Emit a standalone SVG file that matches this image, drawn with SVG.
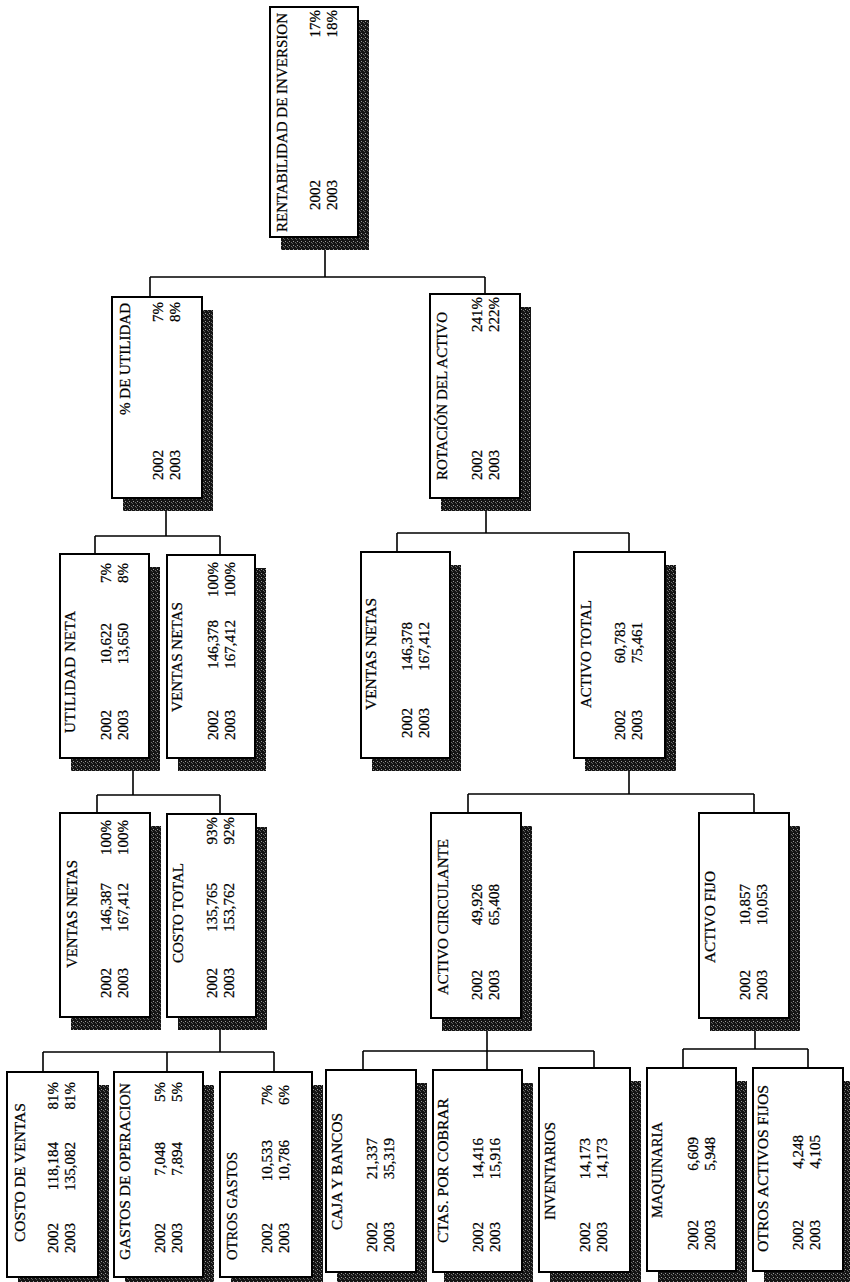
<svg xmlns="http://www.w3.org/2000/svg" width="850" height="1282" viewBox="0 0 850 1282">
<defs>
<pattern id="halftone" width="4" height="4" patternUnits="userSpaceOnUse">
<rect width="4" height="4" fill="#141414"/>
<rect x="1" y="1" width="1" height="1" fill="#9a9a9a"/>
<rect x="3" y="2" width="1" height="1" fill="#6e6e6e"/>
<rect x="0" y="3" width="1" height="1" fill="#555"/>
</pattern>
<style>
.box{fill:#fff;stroke:#000;stroke-width:2}
.sh{fill:url(#halftone)}
.t{font-family:"Liberation Serif","Times New Roman",serif;font-size:15px;fill:#000;stroke:#000;stroke-width:0.25}
.e{text-anchor:end}
.conn{stroke:#000;stroke-width:1.6;fill:none}
</style>
</defs>
<rect width="850" height="1282" fill="#fff"/>

<g id="connectors" class="conn">
<path d="M325 249V277M150 277H485M150 277V297M485 277V294"/>
<path d="M166 511V536M95 536H220M95 536V554M220 536V555"/>
<path d="M486 511V533M397 533H629M397 533V552M629 533V552"/>
<path d="M133 771V795M97 795H220M97 795V813M220 795V814"/>
<path d="M220 1030V1052M43 1052H274M43 1052V1072M167 1052V1072M274 1052V1072"/>
<path d="M629 771V794M468 794H754M468 794V813M754 794V813"/>
<path d="M487 1031V1051M363 1051H594M363 1051V1070M487 1051V1070M594 1051V1068"/>
<path d="M755 1031V1049M683 1049H808M683 1049V1068M808 1049V1068"/>
</g>

<g id="n-rentabilidad">
<rect class="sh" x="281" y="20" width="88" height="230"/>
<rect class="box" x="270" y="7" width="88" height="230"/>
<text class="t" transform="translate(287,232) rotate(-90)" textLength="219" lengthAdjust="spacingAndGlyphs">RENTABILIDAD DE INVERSION</text>
<text class="t" transform="translate(320,210) rotate(-90)">2002</text>
<text class="t" transform="translate(337,210) rotate(-90)">2003</text>
<text class="t e" transform="translate(320,10) rotate(-90)">17%</text>
<text class="t e" transform="translate(337,10) rotate(-90)">18%</text>
</g>

<g id="n-utilidad-pct">
<rect class="sh" x="123" y="310" width="90" height="201"/>
<rect class="box" x="112" y="297" width="90" height="201"/>
<text class="t" transform="translate(130,415) rotate(-90)" textLength="112" lengthAdjust="spacingAndGlyphs">% DE UTILIDAD</text>
<text class="t" transform="translate(163,480) rotate(-90)">2002</text>
<text class="t" transform="translate(180,480) rotate(-90)">2003</text>
<text class="t e" transform="translate(163,302) rotate(-90)">7%</text>
<text class="t e" transform="translate(180,302) rotate(-90)">8%</text>
</g>

<g id="n-rotacion">
<rect class="sh" x="441" y="307" width="90" height="204"/>
<rect class="box" x="430" y="294" width="90" height="204"/>
<text class="t" transform="translate(447,480) rotate(-90)" textLength="168" lengthAdjust="spacingAndGlyphs">ROTACIÓN DEL ACTIVO</text>
<text class="t" transform="translate(482,480) rotate(-90)">2002</text>
<text class="t" transform="translate(499,480) rotate(-90)">2003</text>
<text class="t e" transform="translate(482,297) rotate(-90)">241%</text>
<text class="t e" transform="translate(499,297) rotate(-90)">222%</text>
</g>

<g id="n-utilidad-neta">
<rect class="sh" x="71" y="567" width="89" height="204"/>
<rect class="box" x="60" y="554" width="89" height="204"/>
<text class="t" transform="translate(75,733) rotate(-90)" textLength="122" lengthAdjust="spacing">UTILIDAD NETA</text>
<text class="t" transform="translate(111,740) rotate(-90)">2002</text>
<text class="t" transform="translate(128,740) rotate(-90)">2003</text>
<text class="t e" transform="translate(111,623) rotate(-90)">10,622</text>
<text class="t e" transform="translate(128,623) rotate(-90)">13,650</text>
<text class="t e" transform="translate(111,563) rotate(-90)">7%</text>
<text class="t e" transform="translate(128,563) rotate(-90)">8%</text>
</g>

<g id="n-ventas-netas-1">
<rect class="sh" x="178" y="568" width="88" height="203"/>
<rect class="box" x="167" y="555" width="88" height="203"/>
<text class="t" transform="translate(182,712) rotate(-90)" textLength="110" lengthAdjust="spacingAndGlyphs">VENTAS NETAS</text>
<text class="t" transform="translate(218,740) rotate(-90)">2002</text>
<text class="t" transform="translate(235,740) rotate(-90)">2003</text>
<text class="t e" transform="translate(218,620) rotate(-90)">146,378</text>
<text class="t e" transform="translate(235,620) rotate(-90)">167,412</text>
<text class="t e" transform="translate(218,562) rotate(-90)">100%</text>
<text class="t e" transform="translate(235,562) rotate(-90)">100%</text>
</g>

<g id="n-ventas-netas-2">
<rect class="sh" x="372" y="565" width="89" height="206"/>
<rect class="box" x="361" y="552" width="89" height="206"/>
<text class="t" transform="translate(376,710) rotate(-90)" textLength="112" lengthAdjust="spacingAndGlyphs">VENTAS NETAS</text>
<text class="t" transform="translate(412,738) rotate(-90)">2002</text>
<text class="t" transform="translate(429,738) rotate(-90)">2003</text>
<text class="t e" transform="translate(412,622) rotate(-90)">146,378</text>
<text class="t e" transform="translate(429,622) rotate(-90)">167,412</text>
</g>

<g id="n-activo-total">
<rect class="sh" x="585" y="565" width="91" height="206"/>
<rect class="box" x="574" y="552" width="91" height="206"/>
<text class="t" transform="translate(591,708) rotate(-90)" textLength="108" lengthAdjust="spacingAndGlyphs">ACTIVO TOTAL</text>
<text class="t" transform="translate(625,740) rotate(-90)">2002</text>
<text class="t" transform="translate(642,740) rotate(-90)">2003</text>
<text class="t e" transform="translate(625,622) rotate(-90)">60,783</text>
<text class="t e" transform="translate(642,622) rotate(-90)">75,461</text>
</g>

<g id="n-ventas-netas-3">
<rect class="sh" x="71" y="826" width="90" height="204"/>
<rect class="box" x="60" y="813" width="90" height="204"/>
<text class="t" transform="translate(77,968) rotate(-90)" textLength="108" lengthAdjust="spacingAndGlyphs">VENTAS NETAS</text>
<text class="t" transform="translate(111,998) rotate(-90)">2002</text>
<text class="t" transform="translate(128,998) rotate(-90)">2003</text>
<text class="t e" transform="translate(111,883) rotate(-90)">146,387</text>
<text class="t e" transform="translate(128,883) rotate(-90)">167,412</text>
<text class="t e" transform="translate(111,820) rotate(-90)">100%</text>
<text class="t e" transform="translate(128,820) rotate(-90)">100%</text>
</g>

<g id="n-costo-total">
<rect class="sh" x="178" y="827" width="89" height="203"/>
<rect class="box" x="167" y="814" width="89" height="203"/>
<text class="t" transform="translate(183,963) rotate(-90)" textLength="100" lengthAdjust="spacingAndGlyphs">COSTO TOTAL</text>
<text class="t" transform="translate(217,998) rotate(-90)">2002</text>
<text class="t" transform="translate(234,998) rotate(-90)">2003</text>
<text class="t e" transform="translate(217,883) rotate(-90)">135,765</text>
<text class="t e" transform="translate(234,883) rotate(-90)">153,762</text>
<text class="t e" transform="translate(217,817) rotate(-90)">93%</text>
<text class="t e" transform="translate(234,817) rotate(-90)">92%</text>
</g>

<g id="n-activo-circulante">
<rect class="sh" x="442" y="826" width="90" height="205"/>
<rect class="box" x="431" y="813" width="90" height="205"/>
<text class="t" transform="translate(448,995) rotate(-90)" textLength="156" lengthAdjust="spacingAndGlyphs">ACTIVO CIRCULANTE</text>
<text class="t" transform="translate(482,1000) rotate(-90)">2002</text>
<text class="t" transform="translate(499,1000) rotate(-90)">2003</text>
<text class="t e" transform="translate(482,884) rotate(-90)">49,926</text>
<text class="t e" transform="translate(499,884) rotate(-90)">65,408</text>
</g>

<g id="n-activo-fijo">
<rect class="sh" x="710" y="826" width="90" height="205"/>
<rect class="box" x="699" y="813" width="90" height="205"/>
<text class="t" transform="translate(715,963) rotate(-90)" textLength="92" lengthAdjust="spacingAndGlyphs">ACTIVO FIJO</text>
<text class="t" transform="translate(750,1000) rotate(-90)">2002</text>
<text class="t" transform="translate(767,1000) rotate(-90)">2003</text>
<text class="t e" transform="translate(750,884) rotate(-90)">10,857</text>
<text class="t e" transform="translate(767,884) rotate(-90)">10,053</text>
</g>

<g id="n-costo-ventas">
<rect class="sh" x="18" y="1085" width="91" height="205"/>
<rect class="box" x="7" y="1072" width="91" height="205"/>
<text class="t" transform="translate(25,1242) rotate(-90)" textLength="139" lengthAdjust="spacingAndGlyphs">COSTO DE VENTAS</text>
<text class="t" transform="translate(58,1253) rotate(-90)">2002</text>
<text class="t" transform="translate(75,1253) rotate(-90)">2003</text>
<text class="t e" transform="translate(58,1142) rotate(-90)">118,184</text>
<text class="t e" transform="translate(75,1142) rotate(-90)">135,082</text>
<text class="t e" transform="translate(58,1082) rotate(-90)">81%</text>
<text class="t e" transform="translate(75,1082) rotate(-90)">81%</text>
</g>

<g id="n-gastos-operacion">
<rect class="sh" x="125" y="1085" width="89" height="205"/>
<rect class="box" x="114" y="1072" width="89" height="205"/>
<text class="t" transform="translate(130,1260) rotate(-90)" textLength="177" lengthAdjust="spacingAndGlyphs">GASTOS DE OPERACION</text>
<text class="t" transform="translate(165,1253) rotate(-90)">2002</text>
<text class="t" transform="translate(182,1253) rotate(-90)">2003</text>
<text class="t e" transform="translate(165,1142) rotate(-90)">7,048</text>
<text class="t e" transform="translate(182,1142) rotate(-90)">7,894</text>
<text class="t e" transform="translate(165,1082) rotate(-90)">5%</text>
<text class="t e" transform="translate(182,1082) rotate(-90)">5%</text>
</g>

<g id="n-otros-gastos">
<rect class="sh" x="231" y="1085" width="92" height="205"/>
<rect class="box" x="220" y="1072" width="92" height="205"/>
<text class="t" transform="translate(237,1260) rotate(-90)" textLength="108" lengthAdjust="spacingAndGlyphs">OTROS GASTOS</text>
<text class="t" transform="translate(272,1253) rotate(-90)">2002</text>
<text class="t" transform="translate(289,1253) rotate(-90)">2003</text>
<text class="t e" transform="translate(272,1140) rotate(-90)">10,533</text>
<text class="t e" transform="translate(289,1140) rotate(-90)">10,786</text>
<text class="t e" transform="translate(272,1085) rotate(-90)">7%</text>
<text class="t e" transform="translate(289,1085) rotate(-90)">6%</text>
</g>

<g id="n-caja-bancos">
<rect class="sh" x="337" y="1083" width="90" height="202"/>
<rect class="box" x="326" y="1070" width="90" height="202"/>
<text class="t" transform="translate(342,1230) rotate(-90)" textLength="117" lengthAdjust="spacingAndGlyphs">CAJA Y BANCOS</text>
<text class="t" transform="translate(377,1252) rotate(-90)">2002</text>
<text class="t" transform="translate(394,1252) rotate(-90)">2003</text>
<text class="t e" transform="translate(377,1138) rotate(-90)">21,337</text>
<text class="t e" transform="translate(394,1138) rotate(-90)">35,319</text>
</g>

<g id="n-ctas-cobrar">
<rect class="sh" x="444" y="1083" width="89" height="202"/>
<rect class="box" x="433" y="1070" width="89" height="202"/>
<text class="t" transform="translate(448,1243) rotate(-90)" textLength="145" lengthAdjust="spacingAndGlyphs">CTAS. POR COBRAR</text>
<text class="t" transform="translate(483,1252) rotate(-90)">2002</text>
<text class="t" transform="translate(500,1252) rotate(-90)">2003</text>
<text class="t e" transform="translate(483,1138) rotate(-90)">14,416</text>
<text class="t e" transform="translate(500,1138) rotate(-90)">15,916</text>
</g>

<g id="n-inventarios">
<rect class="sh" x="550" y="1081" width="91" height="204"/>
<rect class="box" x="539" y="1068" width="91" height="204"/>
<text class="t" transform="translate(555,1220) rotate(-90)" textLength="98" lengthAdjust="spacingAndGlyphs">INVENTARIOS</text>
<text class="t" transform="translate(590,1252) rotate(-90)">2002</text>
<text class="t" transform="translate(607,1252) rotate(-90)">2003</text>
<text class="t e" transform="translate(590,1138) rotate(-90)">14,173</text>
<text class="t e" transform="translate(607,1138) rotate(-90)">14,173</text>
</g>

<g id="n-maquinaria">
<rect class="sh" x="658" y="1081" width="89" height="203"/>
<rect class="box" x="647" y="1068" width="89" height="203"/>
<text class="t" transform="translate(662,1218) rotate(-90)" textLength="96" lengthAdjust="spacingAndGlyphs">MAQUINARIA</text>
<text class="t" transform="translate(698,1250) rotate(-90)">2002</text>
<text class="t" transform="translate(715,1250) rotate(-90)">2003</text>
<text class="t e" transform="translate(698,1137) rotate(-90)">6,609</text>
<text class="t e" transform="translate(715,1137) rotate(-90)">5,948</text>
</g>

<g id="n-otros-activos-fijos">
<rect class="sh" x="764" y="1081" width="90" height="203"/>
<rect class="box" x="753" y="1068" width="90" height="203"/>
<text class="t" transform="translate(768,1252) rotate(-90)" textLength="167" lengthAdjust="spacingAndGlyphs">OTROS ACTIVOS FIJOS</text>
<text class="t" transform="translate(803,1250) rotate(-90)">2002</text>
<text class="t" transform="translate(820,1250) rotate(-90)">2003</text>
<text class="t e" transform="translate(803,1135) rotate(-90)">4,248</text>
<text class="t e" transform="translate(820,1135) rotate(-90)">4,105</text>
</g>
</svg>
